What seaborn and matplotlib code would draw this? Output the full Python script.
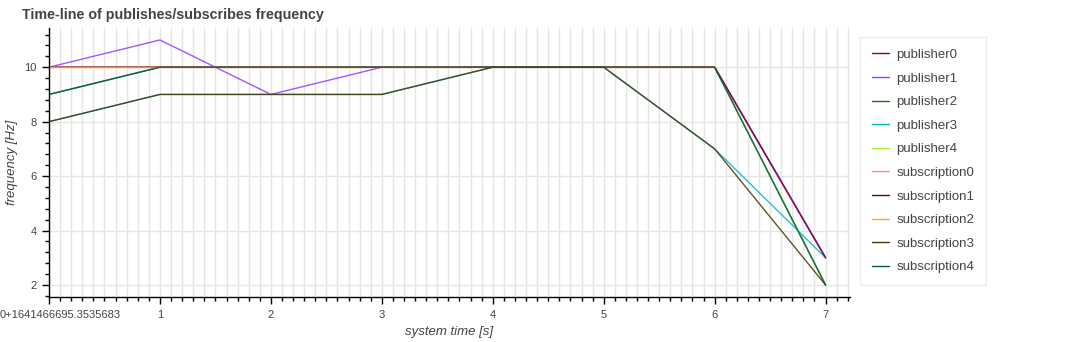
import matplotlib
matplotlib.use("Agg")
import matplotlib.pyplot as plt
import matplotlib.transforms as mtransforms
import seaborn as sns
import pandas as pd
import numpy as np
from matplotlib.ticker import MultipleLocator, FixedLocator, FixedFormatter

time_s = [0, 1, 2, 3, 4, 5, 6, 7]
series_names = ["publisher0", "publisher1", "publisher2", "publisher3", "publisher4",
                "subscription0", "subscription1", "subscription2", "subscription3", "subscription4"]
publisher0 = [10, 10, 10, 10, 10, 10, 10, 3]
publisher1 = [10, 11, 9, 10, 10, 10, 10, 3]
publisher2 = [9, 10, 10, 10, 10, 10, 10, 2]
publisher3 = [8, 9, 9, 9, 10, 10, 7, 3]
publisher4 = [10, 10, 10, 10, 10, 10, 10, 2]
subscription0 = [10, 10, 10, 10, 10, 10, 10, 3]
subscription1 = [10, 10, 10, 10, 10, 10, 10, 3]
subscription2 = [10, 10, 10, 10, 10, 10, 10, np.nan]
subscription3 = [8, 9, 9, 9, 10, 10, 7, 2]
subscription4 = [9, 10, 10, 10, 10, 10, 10, 2]
series_values = [publisher0, publisher1, publisher2, publisher3, publisher4,
                 subscription0, subscription1, subscription2, subscription3, subscription4]
colors = ["#a00000", "#9438ff", "#127a12", "#00b4cc", "#a6ee2e",
          "#ff7ccc", "#5a0036", "#ffa31a", "#4a3400", "#005a4c"]
x_tick_labels = ["0+1641466695.3535683", "1", "2", "3", "4", "5", "6", "7"]

rows = []
for name, vals in zip(series_names, series_values):
    for t, v in zip(time_s, vals):
        rows.append({"time": t, "freq": v, "series": name})
df = pd.DataFrame(rows)

sns.set_theme(style="white")
plt.rcParams["font.family"] = ["Liberation Sans", "DejaVu Sans"]

fig = plt.figure(figsize=(10.86, 3.42), dpi=100)
ax = fig.add_axes([49/1086, 1-297/342, (850-49)/1086, (297-28)/342])

sns.lineplot(data=df, x="time", y="freq", hue="series", hue_order=series_names,
             palette=dict(zip(series_names, colors)), linewidth=1.0, alpha=0.85,
             ax=ax, legend=True, sort=False)

ax.set_xlim(0, 7.22)
ax.set_ylim(1.56, 11.44)

ax.xaxis.set_major_locator(FixedLocator(time_s))
ax.xaxis.set_major_formatter(FixedFormatter(x_tick_labels))
ax.xaxis.set_minor_locator(MultipleLocator(0.1))
ax.yaxis.set_major_locator(FixedLocator([2, 4, 6, 8, 10]))
ax.yaxis.set_minor_locator(MultipleLocator(0.4))

ax.grid(True, which="major", axis="y", color="#e5e5e5", linewidth=1.0)
ax.grid(True, which="both", axis="x", color="#e5e5e5", linewidth=1.0)
ax.set_axisbelow(True)

for s in ["top", "right"]:
    ax.spines[s].set_visible(False)
for s in ["left", "bottom"]:
    ax.spines[s].set_color("black")
    ax.spines[s].set_linewidth(1.0)

ax.tick_params(which="major", direction="out", length=5, width=1, color="black",
               labelsize=8, labelcolor="#444444", left=True, bottom=True, pad=4)
ax.tick_params(which="minor", direction="out", length=3, width=1, color="black",
               left=True, bottom=True)

# first x tick label: Bokeh keeps it inside the canvas, starting at the left edge
fig.canvas.draw()
first = ax.get_xticklabels()[0]
first.set_horizontalalignment("left")
first.set_transform(first.get_transform() + mtransforms.ScaledTranslation(-49/100, 0, fig.dpi_scale_trans))

ax.set_xlabel("system time [s]", fontsize=9.5, style="italic", color="#444444")
ax.set_ylabel("frequency [Hz]", fontsize=9.5, style="italic", color="#444444")
ax.xaxis.set_label_coords((449-49)/(850-49), -(332-297)/269)
ax.xaxis.label.set_verticalalignment("center")
ax.yaxis.set_label_coords(-(49-12)/801, 0.5)
ax.yaxis.label.set_verticalalignment("center")

fig.text(22/1086, 1-15/342, "Time-line of publishes/subscribes frequency", fontsize=10.3,
         fontweight="bold", color="#444444", va="center", ha="left")

handles, labels = ax.get_legend_handles_labels()
for h in handles:
    h.set_alpha(1.0)
leg = ax.legend(handles, labels, loc="upper left", bbox_to_anchor=(860/1086, 1-37/342),
                bbox_transform=fig.transFigure, frameon=True, fontsize=9.5,
                handlelength=1.3, handletextpad=0.55, labelspacing=0.86,
                borderpad=0.9, borderaxespad=0, fancybox=False)
leg.get_frame().set_edgecolor("#e8e8e8")
leg.get_frame().set_linewidth(1.0)
for t in leg.get_texts():
    t.set_color("#444444")

fig.savefig("out.png", dpi=100)
